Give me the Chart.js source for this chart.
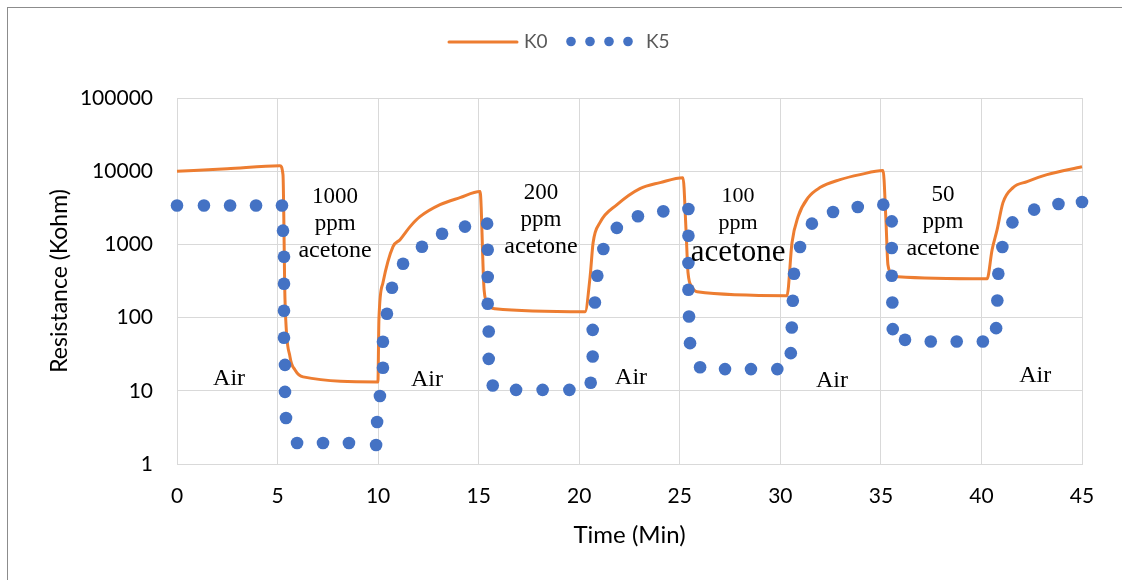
<!DOCTYPE html>
<html>
<head>
<meta charset="utf-8">
<script src="https://cdn.jsdelivr.net/npm/chart.js@4/dist/chart.umd.min.js"></script>
<style>
  body { margin: 0; background: #fff; }
</style>
</head>
<body>
<canvas id="chart" width="1122" height="580"></canvas>
<script>
// K0 sensörü (turuncu çizgi)
const k0Time = [0, 2.5, 5.12, 5.27, 5.37, 5.62, 5.87, 6.27, 9.99,
    10.04, 10.24, 10.74, 11.09, 11.59, 12.08, 13.08, 14.07, 15.07,
    15.27, 15.47, 15.81, 20.29,
    20.54, 20.69, 21.03, 21.88, 23.02, 24.02, 25.16,
    25.31, 25.41, 25.61, 25.86, 30.33,
    30.58, 30.88, 31.38, 31.97, 32.97, 33.96, 35.11,
    35.25, 35.35, 35.55, 35.85, 40.28,
    40.53, 40.78, 41.07, 41.57, 42.27, 43.26, 45.0];
const k0Res = [10000, 10800, 11900, 8950, 175, 29, 19.3, 15.5, 13.2,
    93, 299, 930, 1160, 1750, 2390, 3490, 4350, 5260,
    240, 150, 132, 120,
    361, 1055, 1980, 3490, 5780, 6980, 8170,
    1590, 410, 263, 225, 199,
    1055, 2390, 4350, 5970, 7670, 8980, 10200,
    2180, 527, 398, 362, 340,
    846, 1590, 3720, 5970, 7210, 8980, 11500];

// K5 sensörü (nokta nokta ölçümler)
const k5Time = [0, 1.34, 2.64, 3.93, 5.22,
    5.27, 5.32, 5.32, 5.32, 5.32, 5.37, 5.37, 5.42, 5.97, 7.26, 8.55, 9.9,
    9.95, 10.09, 10.24, 10.24, 10.44, 10.69, 11.24, 12.18, 13.18, 14.32, 15.42,
    15.45, 15.45, 15.45, 15.5, 15.5, 15.7, 16.86, 18.18, 19.51,
    20.57, 20.67, 20.67, 20.78, 20.9, 21.2, 21.87, 22.92, 24.18, 25.43,
    25.43, 25.43, 25.43, 25.46, 25.51, 26.01, 27.25, 28.54, 29.85,
    30.52, 30.57, 30.62, 30.68, 30.98, 31.57, 32.62, 33.85, 35.12,
    35.54, 35.54, 35.54, 35.57, 35.59, 36.2, 37.48, 38.77, 40.07,
    40.73, 40.79, 40.84, 41.04, 41.54, 42.62, 43.83, 45.0];
const k5Res = [3400, 3400, 3400, 3400, 3400,
    1540, 679, 290, 124, 53, 22.6, 9.66, 4.26, 1.94, 1.94, 1.94, 1.82,
    3.75, 8.5, 20.6, 46.7, 113, 256, 545, 930, 1400, 1750, 1920,
    846, 358, 154.5, 64.5, 27.3, 11.8, 10.3, 10.3, 10.3,
    12.9, 29.4, 68, 161, 373, 865, 1680, 2420, 2830, 3050,
    1315, 557, 240, 103.5, 44.8, 21.0, 19.8, 19.8, 19.8,
    32.7, 73.2, 170, 397, 921, 1920, 2770, 3250, 3490,
    2065, 893, 373, 161, 69.6, 49.7, 47.1, 47.1, 47.1,
    71.8, 171, 397, 921, 2000, 2985, 3570, 3800];

const yTicks = [1, 10, 100, 1000, 10000, 100000];

// Metin kutuları
const gasTime = [7.86, 18.1, 27.9, 38.09];
const gasRes = [3720, 4220, 3850, 3970];
const gasLines = [['1000', 'ppm', 'acetone'], ['200', 'ppm', 'acetone'], ['100', 'ppm', 'acetone'], ['50', 'ppm', 'acetone']];
const gasSizes = [[23, 23, 24], [23, 23, 24], [22, 22, 31], [23, 23, 24]];
const airTime = [2.59, 12.43, 22.58, 32.57, 42.67];
const airRes = [12.0, 11.7, 12.4, 11.3, 13.2];

const toPoints = (xs, ys) => xs.map((x, i) => ({ x: x, y: ys[i] }));

const frameAndText = {
    id: 'frameAndText',
    beforeDraw(chart) {
        const ctx = chart.ctx;
        ctx.save();
        ctx.fillStyle = '#fff';
        ctx.fillRect(0, 0, chart.width, chart.height);
        ctx.strokeStyle = '#8c8c8c';
        ctx.lineWidth = 1;
        ctx.strokeRect(7.5, 7.5, chart.width + 20, chart.height + 20);
        ctx.restore();
    },
    afterDraw(chart) {
        const ctx = chart.ctx;
        const xs = chart.scales.x, ys = chart.scales.y;
        ctx.save();
        ctx.fillStyle = '#000';
        ctx.textAlign = 'center';
        ctx.textBaseline = 'alphabetic';

        gasLines.forEach((lines, i) => {
            const cx = xs.getPixelForValue(gasTime[i]);
            let y = ys.getPixelForValue(gasRes[i]);
            lines.forEach((txt, j) => {
                const size = gasSizes[i][j];
                if (j > 0) y += size > 26 ? 32 : 27;
                ctx.font = size + 'px "Liberation Serif"';
                ctx.fillText(txt, cx, y);
            });
        });

        ctx.font = '24px "Liberation Serif"';
        airTime.forEach((t, i) => {
            ctx.fillText('Air', xs.getPixelForValue(t), ys.getPixelForValue(airRes[i]));
        });

        // Lejant
        ctx.strokeStyle = '#ED7D31';
        ctx.lineWidth = 3;
        ctx.lineCap = 'round';
        ctx.beginPath();
        ctx.moveTo(449, 42);
        ctx.lineTo(517, 42);
        ctx.stroke();
        ctx.fillStyle = '#4472C4';
        [571, 590, 609, 628].forEach(x => {
            ctx.beginPath();
            ctx.arc(x, 41.5, 4.8, 0, Math.PI * 2);
            ctx.fill();
        });
        ctx.fillStyle = '#595959';
        ctx.textAlign = 'left';
        ctx.textBaseline = 'middle';
        ctx.font = '19px Lato';
        ctx.fillText('K0', 524, 42);
        ctx.fillText('K5', 646, 42);
        ctx.restore();
    }
};

new Chart(document.getElementById('chart'), {
    type: 'scatter',
    data: {
        datasets: [{
            label: 'K0',
            data: toPoints(k0Time, k0Res),
            showLine: true,
            borderColor: '#ED7D31',
            backgroundColor: '#ED7D31',
            borderWidth: 3,
            pointRadius: 0,
            cubicInterpolationMode: 'monotone',
            clip: false,
            order: 1
        }, {
            label: 'K5',
            data: toPoints(k5Time, k5Res),
            showLine: false,
            backgroundColor: '#4472C4',
            borderWidth: 0,
            pointRadius: 6.3,
            pointStyle: 'circle',
            clip: false,
            order: 0
        }]
    },
    options: {
        responsive: false,
        animation: false,
        layout: { padding: { left: 0, right: 40, top: 98, bottom: 0 } },
        plugins: {
            legend: { display: false },
            tooltip: { enabled: false }
        },
        scales: {
            x: {
                type: 'linear',
                min: 0,
                max: 45,
                ticks: { stepSize: 5, padding: 20, color: '#000', font: { family: 'Lato', size: 21 } },
                grid: { color: '#d9d9d9', drawTicks: false },
                border: { color: '#d9d9d9' },
                title: {
                    display: true, text: 'Time (Min)', color: '#000',
                    font: { family: 'Lato', size: 24 }, padding: { top: 0, bottom: 30 }
                },
                afterFit: s => { s.height = 116; }
            },
            y: {
                type: 'logarithmic',
                min: 1,
                max: 100000,
                afterBuildTicks: s => { s.ticks = yTicks.map(v => ({ value: v })); },
                ticks: { callback: v => String(v), padding: 24, color: '#000', font: { family: 'Lato', size: 21 } },
                grid: { color: '#d9d9d9', drawTicks: false },
                border: { color: '#d9d9d9' },
                title: {
                    display: true, text: 'Resistance (Kohm)', color: '#000',
                    font: { family: 'Lato', size: 23 }, padding: { top: 46, bottom: 0 }
                },
                afterFit: s => { s.width = 177; }
            }
        }
    },
    plugins: [frameAndText]
});
</script>
</body>
</html>
